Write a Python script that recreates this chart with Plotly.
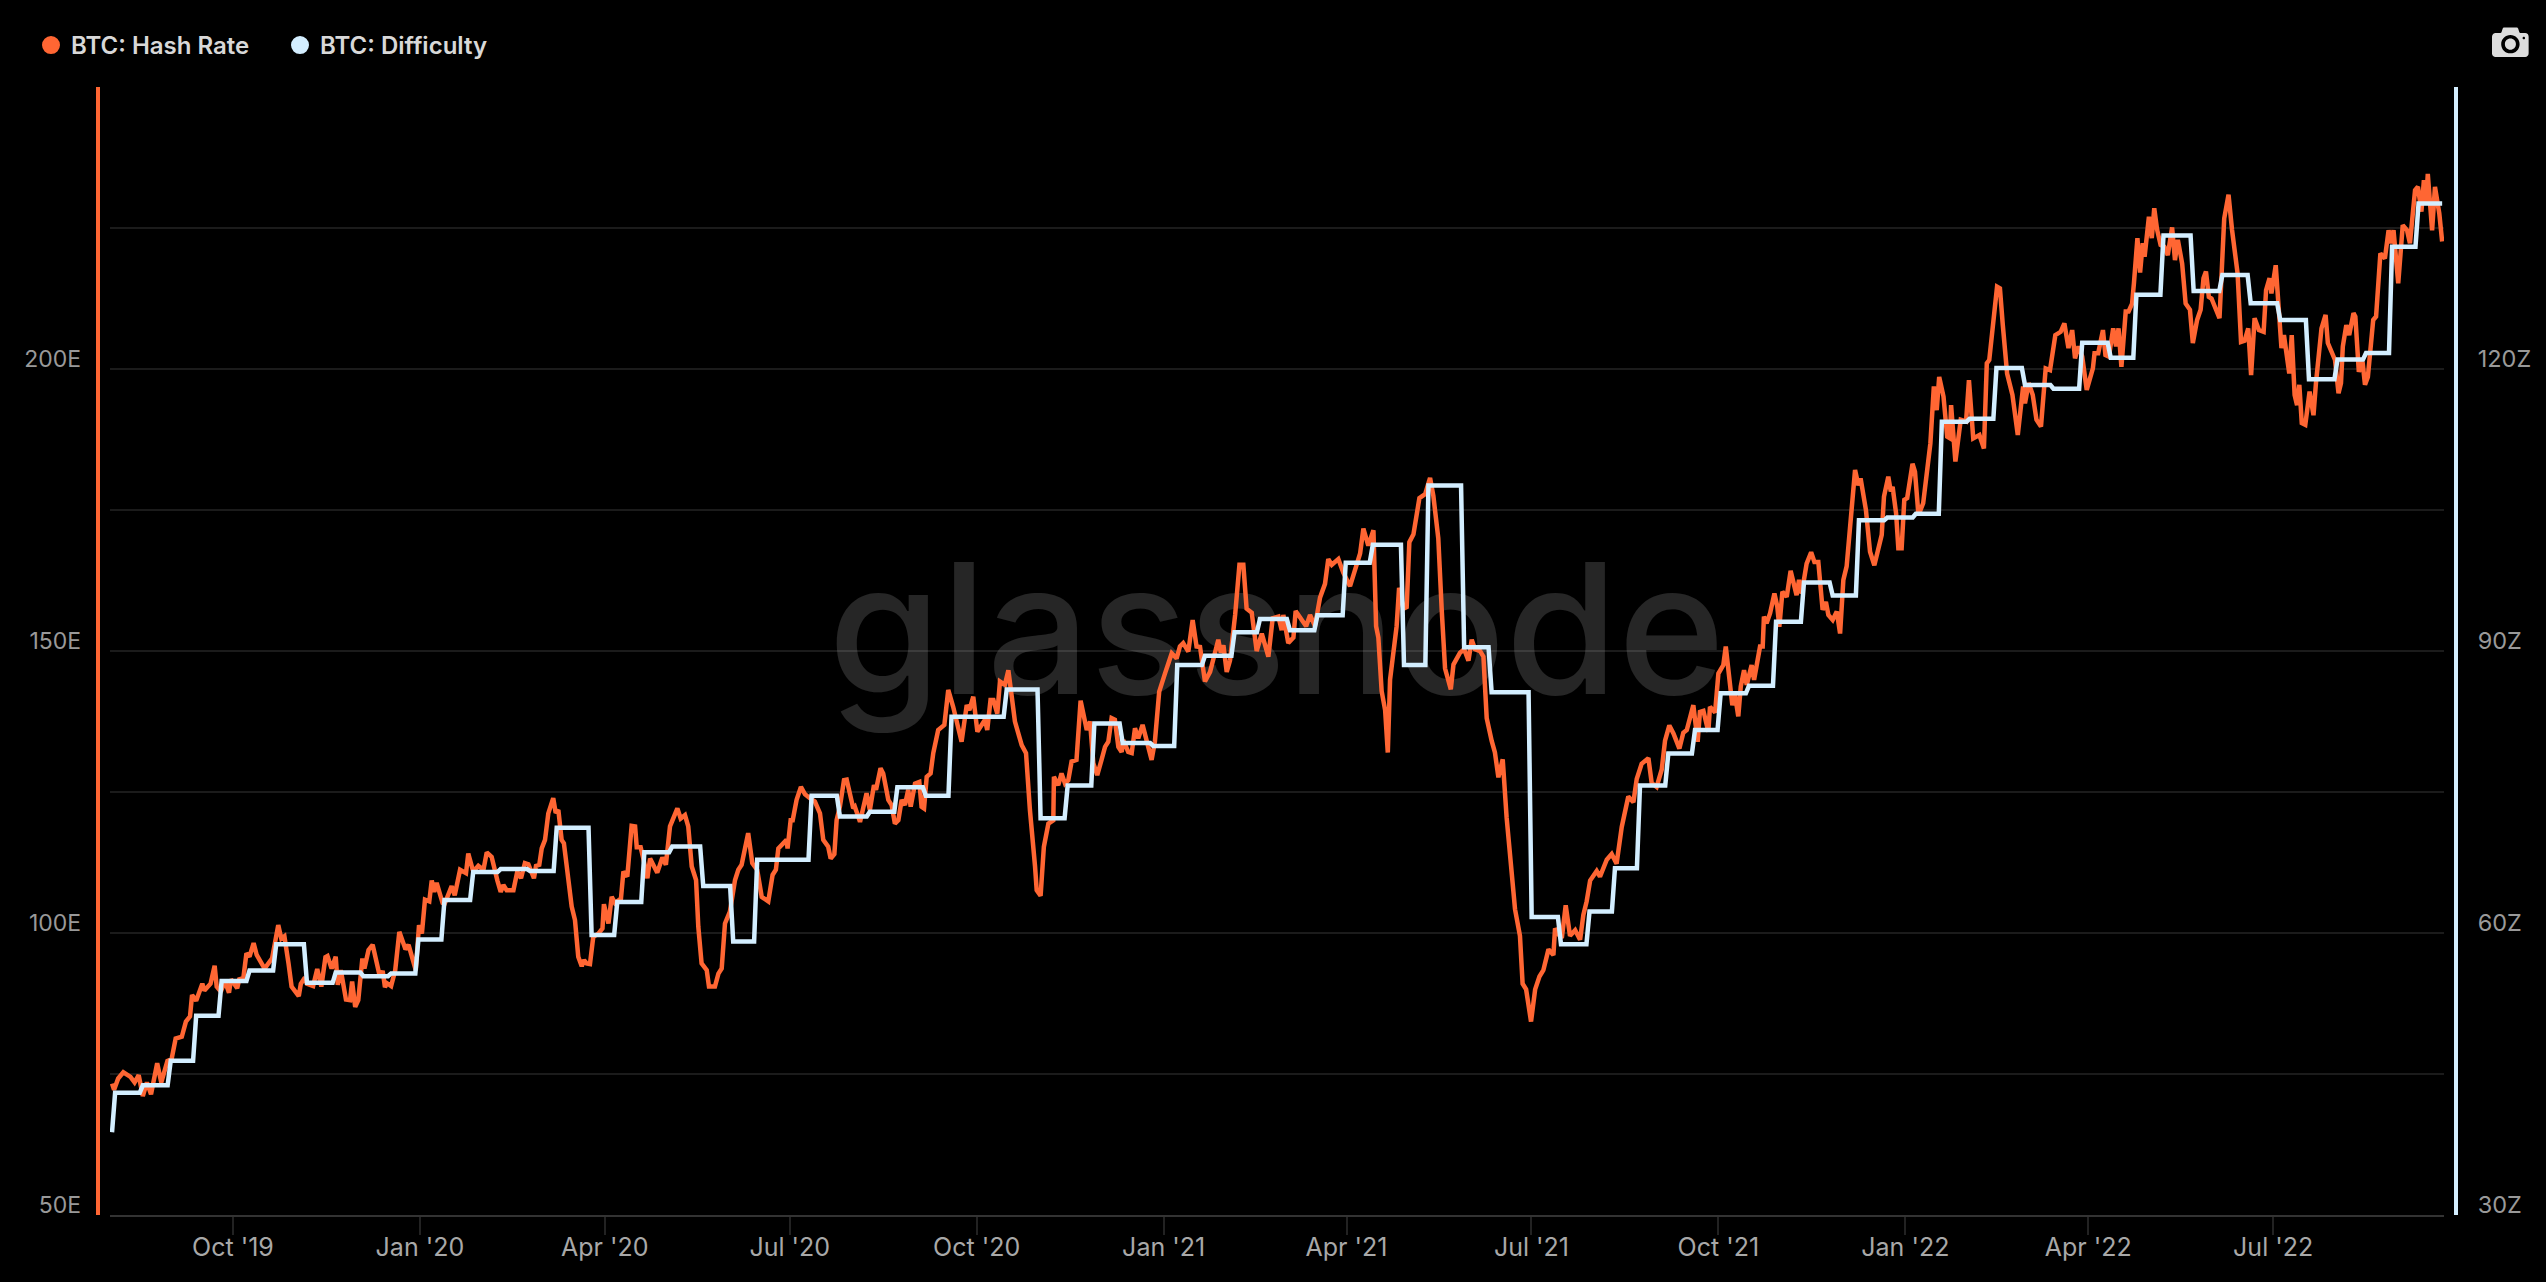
import pandas as pd
import plotly.graph_objects as go

START = pd.Timestamp("2019-08-02 12:00")
DAY_SCALE = 1.00984  # calendar days per unit of the day counters below

hash_days = [0,1,3,5.5,9,11,13,15,17,19,22,24,27,29,31,34,36,38,39,41,44,45,48,50,51,53,55,57,58,61,62,64,65.5,67,69,70.5,74,75,78,81,82.5,84,86,87.5,91,92,94,95,98,100,102,104,105,107,109,110,111.5,114,116,117,118.5,120,122,123,125,127,130,132,133,134,136,138,140,142,143,144.5,148,
149.6,151,152.5,154.6,155.8,157,158.2,161.1,162,165.5,167,169.6,172.5,173.6,176,178.5,181,182.6,185,186.6,187.8,189.4,190.7,192.3,195.6,197.5,199.3,201.2,202.9,205.6,206.6,208.2,209.4,211,212.6,215,216.2,217.5,219.1,220.2,224,225.6,227.2,228.9,230,231.3,232.9,234.5,237,239,239.7,241.9,243.5,245.1,248,249.2,251.1,253.2,254.9,255.7,257.6,258.9,260.9,262.2,265.7,268.2,269.9,271.9,275.5,277.1,279.2,280.8,282.5,284.6,285.7,287.3,289.8,290.9,293.8,295.5,297.1,298.7,
301.1,303.6,305.2,306.8,310,312,314.4,316.6,319.8,321.9,323.5,324.7,328.7,329.2,330.7,331.7,333.6,335.7,337.7,340.1,342.5,345,346.6,349,350.2,352,353.1,354.7,356.7,358,361.2,362,364.5,367.7,369.3,371.3,372.3,374.5,375.8,378.3,379.9,381.5,383.2,384.8,386.4,388,389.2,391.3,393.4,394.5,395.7,397,398.9,400.2,402.6,405.6,407.5,409.9,411.9,414,416.5,417.8,419.7,421.7,425.4,426.5,428.1,429.5,431.4,432.7,435.1,436.8,440,443.3,445.4,447.3,449.8,450.6,452.5,454.1,456.3,458.7,459,461.1,462.7,464.4,466,467.6,470,472,475,476.6,478.2,480.1,482.2,483.9,485.5,487.1,488.7,490.4,492,492.8,495.2,496.9,498.5,500.1,502.2,504.2,505,506.6,508.2,510.3,513.1,516.4,518.8,520.4,522,524.5,526.6,528.5,
530.2,532.6,535.1,537.5,539.1,540.3,541.6,543.2,544.8,547.3,549.4,551.3,552.9,555.4,557.8,560.3,563.5,565.6,568.4,570,570.8,573.2,575.7,576.8,578.9,581.9,583.8,586.2,588.7,591.1,592.7,594.4,597.6,600,603.3,606.6,608.2,609.8,612.2,614.7,616,617.1,618.7,620.4,621.7,622.8,624.4,626,627.2,629.3,630.9,632.2,634.2,635.8,637.1,639.9,642.3,643.9,646.3,648,649.6,652.4,653.7,656.9,658.9,661,662.6,664.2,666.7,668.3,669.9,672.3,673.9,675.6,677.7,679.6,682.1,683.7,686.1,687.4,689.1,691.5,693.5,695.6,697.5,700,702.4,703.2,704.8,706.5,708.4,710.5,713,715.4,717,718.6,720.3,723.5,725.1,728.4,730.8,733.2,735.7,738.9,741.4,743,745.4,748.7,750.3,752.7,755.2,756.8,758.9,760.9,763.8,
765.7,767.4,770.6,772.7,773.8,775.5,777.9,778.7,781.2,782.8,785.2,786.4,788.5,789.6,790.9,792.5,793.7,795.3,796.6,799,800.2,803.1,804.4,805,806.3,808,810.1,811.5,812.5,814,816.1,818,820.9,822.1,823.4,825.8,828,829.6,831.5,833.6,835.2,836.4,838.5,840.5,842.1,843.7,845.3,849.4,851,852.1,854.7,856.7,858.8,862.4,863.5,865.6,866.8,867.7,869.4,870.5,872.1,
873.4,874.8,877.4,878.6,880.3,882.6,883.8,886.1,887.8,889.2,890.4,892.5,894.3,895.7,896.2,898.3,900.9,903.5,904.9,907,910,912.2,913.6,914.8,918.6,920,921.4,923.5,926.1,928.7,931.3,932.2,934,936,937.8,940,942.3,944.4,947,949.6,951.4,953.4,955.2,956.6,958.3,960.1,962.3,965.3,966.1,967.9,970.2,971.4,973.1,975.2,976.6,977.8,979.2,981.3,982.7,983.5,984.4,985.3,987,988.3,989.6,990.5,992.6,994,995.2,996.6,998.3,1000.1,1001.8,1003.9,1005.3,1006.7,1008.8,1010.5,1012.6,1014,1016.1,1017.8,1019.2,1020.4,1021.8,1023.1,1027,1029.3,1031.4,1033.1,1035.8,1037.5,1039.2,1041,1042.4,1044.1,1046.2,1048.5,1049.7,1051.4,1052.3,1054.4,1055.8,1057.2,1058.4,1059.6,1061,1062.2,1063.6,1064.8,1065.9,1067.1,1068.8,1070.9,1072.8,1074,1076.7,1078.7,1079.8,1083.3,1085,1086.2,1087.1,1088.8,1090.2,1092.3,1093.2,1094.9,1096.7,1097.9,1099.3,1101.9,1103.3,1105.4,1107.6,1109.4,1110.6,1111.8,1114.1,1116.3,1118.4,1119.8,1122.3,1123.7,1125.4,1126.6,1127.7,1128.5,1130.6,1132,1134.1,1135.5]

hash_rate = [73.3,72.2,74.2,75.3,74.5,73.5,74.8,71.1,73.5,71.4,76.9,73.5,77.3,77.6,81.3,81.6,84.3,85.2,89,88,91,89.8,91,94.2,90.5,89.6,91.5,89.4,91.8,90.2,91.8,92,96.4,95.8,98.2,96.1,93.9,94,95.5,101.4,99,99.4,94.6,90.5,88.8,91,92.1,91,90.6,93.6,90.5,95.7,95.9,93.7,95.8,90.8,93.4,88.2,88.1,91.4,86.9,88.1,95.5,93.7,97,97.9,93.1,93,90.4,91.1,90.6,93.4,100.2,97.9,97.1,97.9,93.4,
101.4,99.9,105.9,105.6,109.3,107.3,108.9,105.3,105.1,108.3,106.7,111.2,110.6,114.1,110.9,111.9,111.2,114.3,113.5,110.6,109.3,107.3,108.5,107.6,107.6,110.9,109.7,112.4,112.2,109.7,111.9,112.1,115,116.5,121.2,123.9,121.3,121.8,116.5,115.9,104.7,102.3,95.8,94.1,95.2,94.6,94.5,99.3,99.9,100.8,105.1,101.7,106.4,105.3,106.1,110.9,110,119,118.9,115.2,115.2,113.2,109.7,113.2,110.7,113.4,112.1,118.9,122.1,120.3,120.9,118.9,111.8,109.4,101.1,94.6,93.4,90.5,90.5,92.8,93.7,101.7,
103.8,109.4,111.2,112.1,117.7,112.4,111.2,106.4,105.6,110.3,111.2,115,116.5,115,120,120,123.6,125.9,124.6,123.9,123.3,121.2,116.5,115.3,113.2,114,120,122.4,127.1,127.2,122.1,122.4,119.7,124.8,121.8,126.2,125.4,129.2,128.3,123.6,122.7,119.4,120,123.6,122.7,125.4,122.4,126.5,126.8,122.4,122.1,127.7,128.3,131.9,136,136.9,143.1,140.1,136.6,133.9,140.4,139.5,141.9,135.7,137.8,136,141.3,141.3,138.9,144.6,144,146.6,137.5,133.3,131.9,121.8,111.8,107.6,106.6,115.3,119.4,120,127.7,126.2,128.3,126.5,127.1,130.4,130.7,141.2,136,137.5,130.1,128,130.7,133,133.9,138.1,137.8,133,132.1,134.2,132.1,131.9,136.3,134.5,136.9,134.2,133,130.7,133.9,142.8,146,149.6,148.7,150.8,151.4,149.9,155.5,150.8,
150.7,144.6,146.3,150,152,149.7,151,146.3,148.3,156.4,165.3,165.3,157.5,156.8,150,153.1,149,155.8,156.1,153.7,156.4,151.4,152.4,157.1,156.1,154.4,156.4,154.4,159.5,161.9,166.3,165.3,166.3,163.9,161.5,165.9,167.3,171.7,168.7,171.4,154.4,152.4,142.9,139.5,132,144.9,150.3,154.4,161.2,157.5,157.8,169.3,170.7,174.8,177.1,177.8,180.7,177.5,170,157.1,146.9,143.2,147.6,149.7,150.3,148.3,152,150.3,150,149,138.1,134.1,132,127.6,130.8,120.5,110.3,104.2,99.5,91,90,84.3,90,92.3,93.4,97.1,96.1,100.8,99.8,99.1,104.9,99.5,100.5,98.8,103.2,105.6,109.3,111,110,113,114,112.3,118.8,124.2,123.2,127.3,130,131,126.6,125.9,129,134.1,136.8,135.4,132.7,
135.5,136,140.4,133.9,139.2,139.4,135.7,140.1,139.1,146,147.5,150.8,144.9,140.4,142.2,138.4,143.7,146.6,144,147.5,144.9,150.8,150.8,156.1,154.9,156.7,160.2,157.9,154.3,160.5,159.6,164.2,159.9,162.6,160.2,165.5,167.5,165.8,165.8,157.3,158.7,156.4,155.5,157,153.1,162.6,165,182.1,179.4,180.6,175,167.6,165.2,170.6,177.4,180.9,178.3,179.1,174.4,168.2,168.2,
176.8,177.1,183.2,181.8,174.1,176.2,179.7,186.8,196.9,192.7,198.6,195.1,188,187.7,193.6,183.6,191,190.7,198,187.7,188.3,185.9,201,201.6,214.6,214.3,207.8,199.2,195.4,188.3,196.9,193.9,197.5,195.4,191,189.8,200.1,199.8,206,206.6,208.1,203.7,206.9,201.9,204,202.2,196.3,200.1,202.8,202.8,206.9,202.5,202.2,207.2,204,207.2,200.4,210.2,210.2,211,211.6,215.2,223.2,217.1,222.3,219.9,227,223.2,228.5,224.7,222,221.7,220.2,225.1,219.3,222.9,218.7,211.6,210.5,204.6,208.7,210.5,216.1,217.3,212.8,212.5,209,226.7,230.9,224.7,217,204.8,205,207.2,198.9,209,206.9,206.6,214,216.1,213.4,218.4,211.6,203.7,206,203.4,199.2,206,195.4,193.6,197.2,190.4,190.1,196,191.8,197.5,207.2,209.6,204.6,201.6,195.7,197.5,204,207.8,206,209.9,209.3,199.5,201.3,197.2,198.6,208.7,209.3,220.5,219.6,224.6,222.3,224.6,215.2,225.5,224.6,222.3,231.7,232.3,227.9,233.5,229.4,234.6,224.6,232.3,227.6,222.6]

epoch_days = [0,1.5,15,28.6,41,53.4,67,80,95,109,122.5,136,149.3,162,176,189.4,203.7,216.7,233.7,246.2,259.4,273,288.1,302.7,314.4,340.9,354.7,369.3,382.7,396.6,409.1,436,452.5,465.7,478.7,492.5,507.4,519.1,532.6,547,559.4,574,587.4,601.2,614.4,629.6,641.5,658.9,672.3,691.8,706.1,720,732.4,744.6,758.4,771.4,783.9,797.7,810.9,824.5,838.5,851.3,865.1,879,891.7,905.2,918.3,932.2,946.1,960.1,974,986.5,999.7,1014.4,1028.4,1042.2,1056.6,1070.6,1084.5,1098.4,1111.1,1124]
difficulty = [38.8,43.0,43.8,46.4,51.2,54.9,56.0,58.8,54.7,55.8,55.4,55.7,59.3,63.5,66.5,66.8,66.6,71.2,59.8,63.3,68.6,69.2,65.0,59.1,67.8,74.6,72.4,72.9,75.5,74.6,83.0,85.9,72.2,75.7,82.3,80.2,79.9,88.5,89.5,92.0,93.4,92.2,93.8,99.4,101.3,88.5,107.6,90.4,85.6,61.7,58.8,62.3,66.9,75.7,79.1,81.6,85.5,86.3,93.1,97.3,95.9,103.9,104.2,104.6,114.4,114.7,120.1,118.3,117.9,122.8,121.2,127.9,134.2,128.3,130,127,125.2,118.9,121,121.7,133,137.6]

x_ticks = ["2019-10-01","2020-01-01","2020-04-01","2020-07-01","2020-10-01","2021-01-01","2021-04-01","2021-07-01","2021-10-01","2022-01-01","2022-04-01","2022-07-01"]
x_labels = ["Oct '19","Jan '20","Apr '20","Jul '20","Oct '20","Jan '21","Apr '21","Jul '21","Oct '21","Jan '22","Apr '22","Jul '22"]
left_ticks = [50,100,150,200]
left_labels = ["50E","100E","150E","200E"]
right_ticks = [30,60,90,120]
right_labels = ["30Z","60Z","90Z","120Z"]

ORANGE = "#FF6633"
BLUE = "#D3EEFF"
FONT = "Inter"
W, H = 2546, 1282


def to_dates(days):
    return [START + pd.Timedelta(days=float(d) * DAY_SCALE) for d in days]


# stepped line with short slanted risers
step_x, step_y = [], []
END_DAY = hash_days[-1]
for i, v in enumerate(difficulty):
    a = epoch_days[i]
    b = epoch_days[i + 1] - 1.5 if i + 1 < len(epoch_days) else END_DAY
    step_x += [a, b]
    step_y += [v, v]

fig = go.Figure()
fig.add_trace(go.Scatter(
    x=to_dates([567.5]), y=[150.5], mode="text", text=["glassnode"],
    textfont=dict(family=FONT, size=182, color="rgba(255,255,255,0.15)", weight=500),
    textposition="middle center", showlegend=False, hoverinfo="skip", cliponaxis=False))
fig.add_trace(go.Scatter(
    x=to_dates(hash_days), y=hash_rate, mode="lines", name="BTC: Hash Rate",
    line=dict(color=ORANGE, width=4.5), showlegend=False))
fig.add_trace(go.Scatter(
    x=to_dates(step_x), y=step_y, mode="lines", name="BTC: Difficulty", yaxis="y2",
    line=dict(color=BLUE, width=4.5), showlegend=False))
for name, col in [("BTC: Hash Rate", ORANGE), ("BTC: Difficulty", BLUE)]:
    fig.add_trace(go.Scatter(x=[None], y=[None], mode="markers", name=name,
                             marker=dict(color=col, size=16, symbol="circle",
                                         line=dict(color=col, width=2))))

GRID = "#1b1b1b"
fig.update_layout(
    width=W, height=H, autosize=False,
    margin=dict(l=0, r=0, t=0, b=0, pad=0),
    paper_bgcolor="#000000", plot_bgcolor="#000000",
    font=dict(family=FONT, size=23, color="#a0a0a0"),
    hovermode=False,
    legend=dict(orientation="h", x=31/W, y=1-23/H, xanchor="left", yanchor="top",
                font=dict(family=FONT, size=24, color="#d8d8d8", weight=600),
                bgcolor="rgba(0,0,0,0)", entrywidth=204, entrywidthmode="pixels",
                itemclick=False, itemdoubleclick=False),
    modebar=dict(bgcolor="rgba(0,0,0,0)", color="#dddddd", activecolor="#dddddd"),
    xaxis=dict(domain=[110/W, 2444/W], type="date", automargin=False,
               range=["2019-08-01 12:00", "2022-09-23 02:00"],
               tickvals=x_ticks, ticktext=x_labels, ticks="outside", ticklen=18,
               tickcolor="#222222", tickwidth=1.5, ticklabelstandoff=-9,
               tickfont=dict(family=FONT, size=25, color="#a8a8a8"),
               showgrid=False, zeroline=False,
               showline=True, linecolor="#333333", linewidth=2),
    yaxis=dict(domain=[1-1215/H, 1-87/H], range=[50, 250], automargin=False,
               anchor="free", position=97.8/W, side="left",
               tickvals=left_ticks, ticktext=left_labels, ticks="",
               ticklabelshift=-10, ticklabelstandoff=10,
               tickfont=dict(family=FONT, size=23, color="#999999"),
               showgrid=False, zeroline=False,
               minor=dict(dtick=25, tick0=0, showgrid=True, gridcolor=GRID, gridwidth=1.5, ticks=""),
               showline=True, linecolor=ORANGE, linewidth=4),
    yaxis2=dict(domain=[1-1215/H, 1-87/H], range=[30, 150], overlaying="y", automargin=False,
                anchor="free", position=2456/W, side="right",
                tickvals=right_ticks, ticktext=right_labels, ticks="",
                ticklabelshift=-10, ticklabelstandoff=15,
                tickfont=dict(family=FONT, size=23.5, color="#999999"),
                showgrid=False, zeroline=False,
                showline=True, linecolor=BLUE, linewidth=4),
)

post = """
var s = document.createElement('style');
s.textContent = 'html,body{margin:0;padding:0;background:#000}'
  + '.modebar-container .modebar{transform:scale(2.3);transform-origin:top right;right:8px !important;top:17px !important;}';
document.head.appendChild(s);
"""
fig.write_html("out.html", post_script=post, config=dict(
    displayModeBar=True, displaylogo=False, modeBarButtons=[["toImage"]]))
